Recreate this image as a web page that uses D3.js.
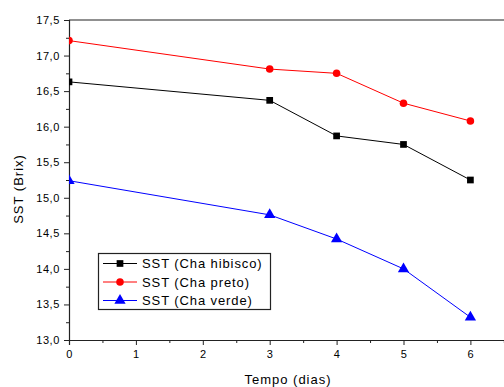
<!DOCTYPE html>
<html lang="pt">
<head>
<meta charset="UTF-8">
<title>SST</title>
<script src="https://d3js.org/d3.v7.min.js"></script>
<style>
  body { margin: 0; background: #fff; }
  svg { display: block; font-family: "Liberation Sans", Arial, sans-serif; }
</style>
</head>
<body>
<svg id="chart" width="504" height="387"></svg>
<script>
// data
var dias = [0, 3, 4, 5, 6]
var hibisco = [16.63, 16.37, 15.87, 15.75, 15.25]
var preto = [17.21, 16.81, 16.75, 16.33, 16.08]
var verde = [15.24, 14.76, 14.42, 14.0, 13.32]
var nomes = ["SST (Cha hibisco)", "SST (Cha preto)", "SST (Cha verde)"]
var xTicks = [0, 1, 2, 3, 4, 5, 6]
var yTicks = [13.0, 13.5, 14.0, 14.5, 15.0, 15.5, 16.0, 16.5, 17.0, 17.5]

var series = [
  {name: nomes[0], values: hibisco, color: "#000", sym: d3.symbolSquare},
  {name: nomes[1], values: preto, color: "#f00", sym: d3.symbolCircle},
  {name: nomes[2], values: verde, color: "#00f", sym: d3.symbolTriangle}
]

var svg = d3.select("#chart")
var mLeft = 69, mTop = 20, mBottom = 340

var x = d3.scaleLinear().domain([0, 7]).range([mLeft, mLeft + 7 * 66.9])
var y = d3.scaleLinear().domain([13, 17.5]).range([mBottom, mTop])

svg.append("clipPath").attr("id", "plot")
  .append("rect").attr("x", mLeft).attr("y", mTop).attr("width", 504).attr("height", mBottom - mTop)

// frame (top + right go past the crop)
svg.append("line").attr("x1", mLeft).attr("x2", 504).attr("y1", mTop).attr("y2", mTop)
  .attr("stroke", "#222").attr("stroke-width", 1.2)

var fmt = d => d3.format(".1f")(d).replace(".", ",")

// y axis
svg.append("g").attr("transform", `translate(${mLeft},0)`)
  .call(d3.axisLeft(y).tickValues(yTicks).tickFormat(fmt).tickSize(5).tickPadding(4))
svg.append("g").attr("transform", `translate(${mLeft},0)`)
  .call(d3.axisLeft(y).tickValues(d3.range(13.25, 17.5, 0.5)).tickFormat("").tickSize(3))
  .call(g => g.select(".domain").remove())

// x axis
svg.append("g").attr("transform", `translate(0,${mBottom})`)
  .call(d3.axisBottom(x).tickValues(xTicks).tickFormat(d3.format("d")).tickSize(5).tickPadding(5))
svg.append("g").attr("transform", `translate(0,${mBottom})`)
  .call(d3.axisBottom(x).tickValues(d3.range(0.5, 7, 1)).tickFormat("").tickSize(3))
  .call(g => g.select(".domain").remove())

svg.selectAll(".domain").attr("stroke", "#222").attr("stroke-width", 1.2)
svg.selectAll(".tick line").attr("stroke", "#222")
svg.selectAll(".tick text").attr("font-size", "11px").attr("fill", "#000")
  .attr("font-family", "\"Liberation Sans\", Arial, sans-serif")
  .style("letter-spacing", "0.6px")

// titles
svg.append("text").attr("x", 288).attr("y", 384).attr("text-anchor", "middle")
  .attr("font-size", "13px").style("letter-spacing", "1px").text("Tempo (dias)")
svg.append("text").attr("transform", "translate(23,189) rotate(-90)").attr("text-anchor", "middle")
  .attr("font-size", "13px").style("letter-spacing", "1px").text("SST (Brix)")

// lines + markers
var line = d3.line().x((d, i) => x(dias[i])).y(d => y(d))
var plot = svg.append("g").attr("clip-path", "url(#plot)")
series.forEach(s => {
  plot.append("path").datum(s.values).attr("d", line)
    .attr("fill", "none").attr("stroke", s.color).attr("stroke-width", 1)
  plot.selectAll(null).data(s.values).join("path")
    .attr("transform", (d, i) => `translate(${x(dias[i])},${y(d)})`)
    .attr("d", d3.symbol().type(s.sym).size(s.sym === d3.symbolTriangle ? 55 : 45))
    .attr("fill", s.color)
})

// legend
var lg = svg.append("g")
lg.append("rect").attr("x", 98.5).attr("y", 253.5).attr("width", 172).attr("height", 56)
  .attr("fill", "#fff").attr("stroke", "#222").attr("stroke-width", 1.2)
series.forEach((s, i) => {
  var ly = 263.5 + i * 18.5
  lg.append("line").attr("x1", 103).attr("x2", 137).attr("y1", ly).attr("y2", ly)
    .attr("stroke", s.color)
  lg.append("path").attr("transform", `translate(120,${ly})`)
    .attr("d", d3.symbol().type(s.sym).size(s.sym === d3.symbolTriangle ? 55 : 45))
    .attr("fill", s.color)
  lg.append("text").attr("x", 142).attr("y", ly + 4.5).attr("font-size", "13px")
    .style("letter-spacing", "0.9px").text(s.name)
})
</script>
</body>
</html>
